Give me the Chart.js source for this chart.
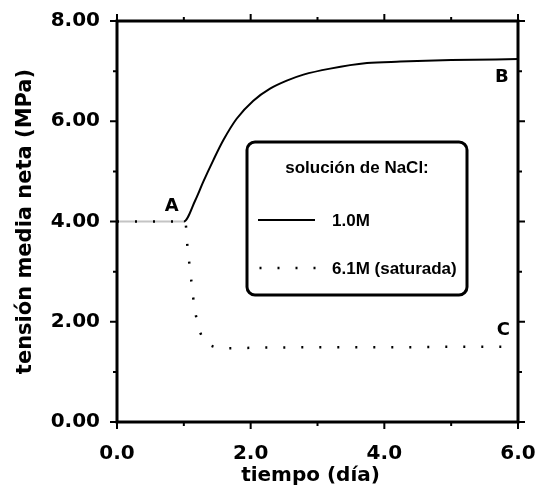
<!DOCTYPE html>
<html>
<head>
<meta charset="utf-8">
<script src="https://cdn.jsdelivr.net/npm/chart.js@4.4.1/dist/chart.umd.min.js"></script>
<style>
  html, body { margin: 0; padding: 0; background: #fff; }
  #wrap { width: 537px; height: 488px; }
</style>
</head>
<body>
<div id="wrap"><canvas id="chart" width="537" height="488"></canvas></div>
<script>
/***** DATOS *****/
// 1.0M: sube desde A (1 día, 4 MPa) hasta B
const solidX = [0, 1.0, 1.17, 1.29, 1.44, 1.59, 1.79, 2.04, 2.29, 2.54, 2.79, 3.19, 3.74, 4.24, 5.0, 6.0];
const solidY = [4.0, 4.0, 4.42, 4.79, 5.22, 5.62, 6.05, 6.41, 6.65, 6.81, 6.93, 7.05, 7.16, 7.19, 7.22, 7.24];
// 6.1M (saturada): cae desde A hasta C
const dotX = [0, 1.0, 1.03, 1.05, 1.08, 1.11, 1.14, 1.18, 1.25, 1.41, 1.67, 2.0, 3.0, 4.0, 5.0, 6.0];
const dotY = [4.0, 4.0, 3.93, 3.56, 3.19, 2.84, 2.48, 2.13, 1.77, 1.52, 1.47, 1.48, 1.49, 1.49, 1.50, 1.50];

const seriesNames = ["1.0M", "6.1M (saturada)"];
const legendTitle = "solución de NaCl:";
const xTitle = "tiempo (día)";
const yTitle = "tensión media neta (MPa)";
// letras de los puntos (coordenadas en datos)
const markLabels = ["A", "B", "C"];
const markX = [0.82, 5.76, 5.78];
const markY = [4.30, 6.87, 1.83];

const toXY = (xs, ys) => xs.map((x, i) => ({ x, y: ys[i] }));

const BOLD = "'DejaVu Sans', sans-serif";
const LEG = "'Liberation Sans', Arial, sans-serif";

/***** PLUGIN: marco, ticks, letras y leyenda *****/
const framePlugin = {
  id: "frame",
  afterDraw(chart) {
    const { ctx, chartArea: a, scales } = chart;
    const sx = scales.x, sy = scales.y;
    ctx.save();
    ctx.strokeStyle = "#000";
    ctx.lineWidth = 3;
    ctx.strokeRect(a.left, a.top, a.right - a.left, a.bottom - a.top);

    ctx.lineWidth = 2;
    ctx.beginPath();
    for (let v = 0; v <= 6; v++) {
      const p = sx.getPixelForValue(v);
      const L = v % 2 === 0 ? 7 : 4;
      ctx.moveTo(p, a.bottom); ctx.lineTo(p, a.bottom + L);
      ctx.moveTo(p, a.top); ctx.lineTo(p, a.top - L);
    }
    for (let v = 0; v <= 8; v++) {
      const p = sy.getPixelForValue(v);
      const L = v % 2 === 0 ? 7 : 4;
      ctx.moveTo(a.left, p); ctx.lineTo(a.left - L, p);
      ctx.moveTo(a.right, p); ctx.lineTo(a.right + L, p);
    }
    ctx.stroke();

    // letras A, B, C
    ctx.fillStyle = "#000";
    ctx.font = "bold 18px " + BOLD;
    ctx.textAlign = "center";
    ctx.textBaseline = "middle";
    markLabels.forEach((t, i) => {
      ctx.fillText(t, sx.getPixelForValue(markX[i]), sy.getPixelForValue(markY[i]));
    });

    // leyenda
    const bx = 247, by = 142, bw = 220, bh = 153;
    ctx.lineWidth = 3;
    ctx.beginPath();
    ctx.roundRect(bx, by, bw, bh, 8);
    ctx.stroke();

    ctx.font = "bold 17px " + LEG;
    ctx.textAlign = "center";
    ctx.fillText(legendTitle, 357, 168);

    ctx.textAlign = "left";
    ctx.lineWidth = 2;
    ctx.beginPath();
    ctx.moveTo(258, 220); ctx.lineTo(315, 220);
    ctx.stroke();
    ctx.fillText(seriesNames[0], 332, 221);

    ctx.setLineDash([2, 16]);
    ctx.lineWidth = 2.5;
    ctx.beginPath();
    ctx.moveTo(259.5, 268); ctx.lineTo(318, 268);
    ctx.stroke();
    ctx.setLineDash([]);
    ctx.fillText(seriesNames[1], 332, 269);
    ctx.restore();
  }
};

/***** GRÁFICO *****/
new Chart(document.getElementById("chart").getContext("2d"), {
  type: "line",
  data: {
    datasets: [
      {
        label: seriesNames[0],
        data: toXY(solidX, solidY),
        borderColor: "#000",
        borderWidth: 2,
        pointRadius: 0,
        cubicInterpolationMode: "monotone",
        order: 1,
        segment: {
          borderColor: c => (c.p1.parsed.x <= 1 ? "#c4c4c4" : undefined)
        }
      },
      {
        label: seriesNames[1],
        data: toXY(dotX, dotY),
        borderColor: "#000",
        borderWidth: 2.5,
        borderDash: [2, 16],
        pointRadius: 0,
        cubicInterpolationMode: "monotone",
        order: 0
      }
    ]
  },
  options: {
    responsive: false,
    animation: false,
    layout: { padding: { left: 0, right: 19, top: 21, bottom: 0 } },
    plugins: { legend: { display: false }, tooltip: { enabled: false } },
    scales: {
      x: {
        type: "linear",
        min: 0, max: 6,
        afterFit: s => { s.height = 66; s.paddingLeft = 0; s.paddingRight = 0; },
        border: { display: false },
        grid: { drawOnChartArea: false, drawTicks: false },
        ticks: {
          stepSize: 2,
          padding: 20,
          color: "#000",
          maxRotation: 0,
          font: { family: BOLD, size: 20, weight: "bold" },
          callback: v => v.toFixed(1)
        },
        title: {
          display: true,
          text: xTitle + "  ",   // el título va algo a la izquierda del centro
          color: "#000",
          padding: { top: 0, bottom: 0 },
          font: { family: BOLD, size: 20, weight: "bold" }
        }
      },
      y: {
        min: 0, max: 8,
        afterFit: s => { s.width = 117; s.paddingTop = 0; s.paddingBottom = 0; },
        border: { display: false },
        grid: { drawOnChartArea: false, drawTicks: false },
        ticks: {
          stepSize: 2,
          padding: 17,
          color: "#000",
          font: { family: BOLD, size: 20, weight: "bold" },
          callback: v => v.toFixed(2)
        },
        title: {
          display: true,
          text: yTitle,
          color: "#000",
          padding: { top: 13, bottom: 0 },
          font: { family: BOLD, size: 21, weight: "bold" }
        }
      }
    }
  },
  plugins: [framePlugin]
});
</script>
</body>
</html>
